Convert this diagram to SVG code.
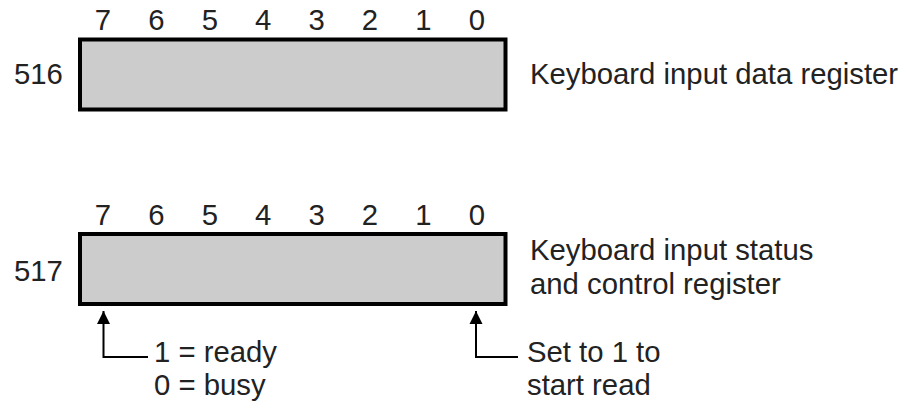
<svg xmlns="http://www.w3.org/2000/svg" width="909" height="409" viewBox="0 0 909 409">
<style>
text{font-family:"Liberation Sans",Arial,sans-serif;font-size:29.3px;fill:#222}
.bit{text-anchor:middle}
.reg{fill:#cccccc;stroke:#000;stroke-width:4}
.conn{fill:none;stroke:#000;stroke-width:2}
</style>
<defs>
<marker id="ah" markerUnits="userSpaceOnUse" markerWidth="14" markerHeight="14" viewBox="0 0 14 14" refX="13" refY="7" orient="auto">
<path d="M0,0.5 L13,7 L0,13.5 Z" fill="#000"/>
</marker>
</defs>
<rect width="909" height="409" fill="#fff"/>
<g id="reg516">
<rect class="reg" x="80" y="39.5" width="425.5" height="70"/>
<g class="bit">
<text x="103" y="30">7</text><text x="156.4" y="30">6</text><text x="209.8" y="30">5</text><text x="263.2" y="30">4</text><text x="316.6" y="30">3</text><text x="370" y="30">2</text><text x="423.4" y="30">1</text><text x="476.8" y="30">0</text>
</g>
<text x="14" y="84">516</text>
<text x="530" y="84">Keyboard input data register</text>
</g>
<g id="reg517">
<rect class="reg" x="80" y="234" width="425.5" height="70"/>
<g class="bit">
<text x="103" y="225">7</text><text x="156.4" y="225">6</text><text x="209.8" y="225">5</text><text x="263.2" y="225">4</text><text x="316.6" y="225">3</text><text x="370" y="225">2</text><text x="423.4" y="225">1</text><text x="476.8" y="225">0</text>
</g>
<text x="14" y="281">517</text>
<text x="530" y="260">Keyboard input status</text>
<text x="530" y="294">and control register</text>
</g>
<g id="note-ready">
<text x="154" y="362">1 = ready</text>
<text x="154" y="395">0 = busy</text>
</g>
<g id="note-start">
<text x="527" y="362">Set to 1 to</text>
<text x="527" y="395">start read</text>
</g>
<g id="connectors">
<path class="conn" d="M148,357 H103.5 V311" marker-end="url(#ah)"/>
<path class="conn" d="M518,357 H476 V311" marker-end="url(#ah)"/>
</g>
</svg>
